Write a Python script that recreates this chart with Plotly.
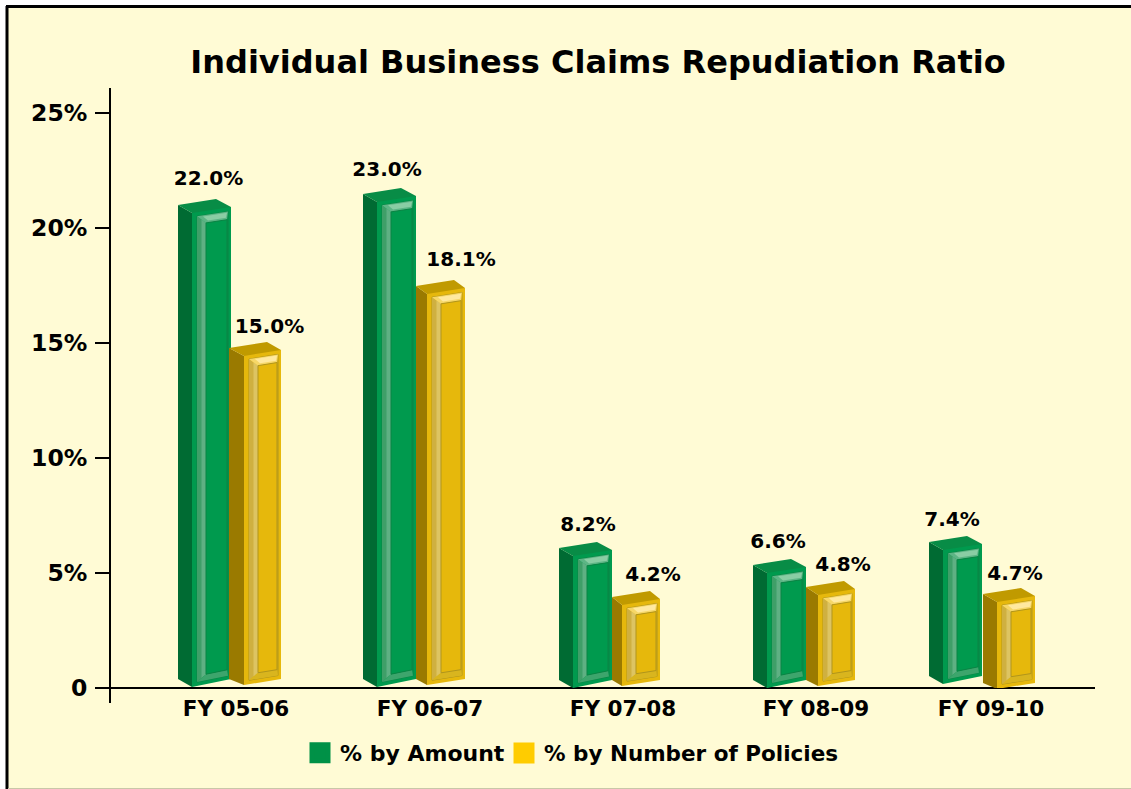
import plotly.graph_objects as go

# ---- data ----
fiscal_years = ["FY 05-06", "FY 06-07", "FY 07-08", "FY 08-09", "FY 09-10"]
amount_labels = [22.0, 23.0, 8.2, 6.6, 7.4]
policies_labels = [15.0, 18.1, 4.2, 4.8, 4.7]
# drawn height of the front-right corner of each 3D bar, and where its foot sits
amount_drawn = [20.91, 21.39, 6.0, 5.26, 6.26]
policies_drawn = [14.70, 17.39, 3.87, 4.30, 4.0]
amount_foot = [0.39, 0.39, 0.35, 0.35, 0.52]
policies_foot = [0.39, 0.39, 0.35, 0.35, 0.22]
value_ticks = [0, 5, 10, 15, 20, 25]
value_tick_labels = ["0", "5%", "10%", "15%", "20%", "25%"]

# ---- layout of the irregular category slots (x axis units = px) ----
year_centres = [236, 430, 623, 816, 991]
amount_side_left = [178, 363, 559, 753, 929]
amount_front_left = [192, 377, 573, 767, 943]
amount_front_right = [231, 416, 612, 806, 982]
policies_side_left = [229, 416, 612, 806, 983]
policies_front_left = [244, 427, 622, 818, 997]
policies_front_right = [281, 465, 660, 855, 1035]
amount_label_x = [208.5, 387, 588, 778, 952]
policies_label_x = [269.5, 461, 653, 843, 1015]
amount_label_gap = [27, 25, 24, 24, 23]
policies_label_gap = [22, 27, 23, 23, 21]

PLOT_L, PLOT_R, PLOT_T, PLOT_B = 110, 1095, 88, 688
PX = 1 / 23.0  # one pixel in value units
FONT = "DejaVu Sans"

GREEN = dict(main="#009A4E", side="#006B33", top="#088C46", left="#3F9F68", left2="#5FB083",
             top_bevel="#5DB585", hl="#8ACDA4", bottom="#3DA56C", edge="#0A8444", legend="#009147")
YELLOW = dict(main="#E6B80C", side="#9A7A00", top="#C09A00", left="#CFB040", left2="#DDC462",
              top_bevel="#F6D768", hl="#FFE9A0", bottom="#D9B51E", edge="#B0951C", legend="#FFCC00")


def path(polys):
    xs, ys = [], []
    for poly in polys:
        pts = poly + [poly[0]]
        xs += [p[0] for p in pts] + [None]
        ys += [p[1] for p in pts] + [None]
    return xs, ys


def add_series(fig, name, tops, feet, sl, fl, fr, colors, foot_tilt):
    fig.add_trace(go.Bar(
        x=[(a + b) / 2 for a, b in zip(fl, fr)], y=[t - f for t, f in zip(tops, feet)], base=feet,
        width=[b - a for a, b in zip(fl, fr)], marker=dict(color=colors["main"], line=dict(width=0)),
        name=name, showlegend=False, hoverinfo="skip"))
    groups = {k: [] for k in ["side", "top", "front_low", "frame", "left", "left2", "top_bevel", "hl", "bottom", "panel"]}
    for t, f, xl, xf, xr in zip(tops, feet, sl, fl, fr):
        w = xr - xf
        yt = lambda x: t - 6 * PX * (xr - x) / w
        yb = lambda x: f - foot_tilt * PX * (xr - x) / w
        x1, x2, x3, x4 = xf + 5, xf + 14, xr - 4, xr - 3
        xm = (x1 + x2) / 2
        groups["side"].append([(xl, t + 2 * PX), (xf, yt(xf)), (xf, yb(xf)), (xl, f)])
        groups["top"].append([(xl, t + 2 * PX), (xl + 38, t + 8 * PX), (xr, t), (xf, yt(xf))])
        groups["front_low"].append([(xf, yb(xf)), (xr, f), (xf, f)])
        groups["frame"].append([(x1, yt(x1) - 4 * PX), (x4, yt(x4) - 4 * PX), (x4, yb(x4) + 4 * PX), (x1, yb(x1) + 4 * PX)])
        groups["left"].append([(x1, yt(x1) - 4 * PX), (x2, yt(x2) - 12 * PX), (x2, yb(x2) + 10 * PX), (x1, yb(x1) + 4 * PX)])
        groups["left2"].append([(xm, yt(xm) - 8 * PX), (x2, yt(x2) - 12 * PX), (x2, yb(x2) + 10 * PX), (xm, yb(xm) + 7 * PX)])
        groups["top_bevel"].append([(x1, yt(x1) - 4 * PX), (x4, yt(x4) - 4 * PX), (x3, yt(x3) - 12 * PX), (x2, yt(x2) - 12 * PX)])
        groups["hl"].append([(x1 + 6, yt(x1 + 6) - 5 * PX), (x4 - 1, yt(x4 - 1) - 5 * PX), (x3 - 1, yt(x3 - 1) - 10 * PX), (x2 + 2, yt(x2 + 2) - 10 * PX)])
        groups["bottom"].append([(x1, yb(x1) + 4 * PX), (x2, yb(x2) + 10 * PX), (x3, yb(x3) + 10 * PX), (x4, yb(x4) + 4 * PX)])
        groups["panel"].append([(x2, yt(x2) - 12 * PX), (x3, yt(x3) - 12 * PX), (x3, yb(x3) + 10 * PX), (x2, yb(x2) + 10 * PX)])

    def draw(key, fill, line_col=None):
        xs, ys = path(groups[key])
        fig.add_trace(go.Scatter(x=xs, y=ys, mode="lines", fill="toself", fillcolor=fill,
                                 line=dict(width=1 if line_col else 0, color=line_col or fill),
                                 cliponaxis=False, showlegend=False, hoverinfo="skip"))

    draw("side", colors["side"])
    draw("top", colors["top"])
    draw("front_low", colors["main"])
    draw("frame", colors["main"], colors["edge"])
    draw("left", colors["left"])
    draw("left2", colors["left2"])
    draw("top_bevel", colors["top_bevel"])
    draw("hl", colors["hl"])
    draw("bottom", colors["bottom"])
    draw("panel", colors["main"], colors["edge"])


def px_x(p):
    return (p - PLOT_L) / (PLOT_R - PLOT_L)


def px_y(p):
    return (PLOT_B - p) / (PLOT_B - PLOT_T)


fig = go.Figure()
add_series(fig, "% by Amount", amount_drawn, amount_foot, amount_side_left, amount_front_left,
           amount_front_right, GREEN, 8)
add_series(fig, "% by Number of Policies", policies_drawn, policies_foot, policies_side_left,
           policies_front_left, policies_front_right, YELLOW, 6)

for xs, tops, gaps, vals in [(amount_label_x, amount_drawn, amount_label_gap, amount_labels),
                             (policies_label_x, policies_drawn, policies_label_gap, policies_labels)]:
    fig.add_trace(go.Scatter(
        x=xs, y=[t + g * PX for t, g in zip(tops, gaps)], mode="text",
        text=[f"{v:.1f}%" for v in vals], textposition="middle center",
        textfont=dict(family=FONT, size=20, color="#000000", weight="bold"),
        cliponaxis=False, showlegend=False, hoverinfo="skip"))

for name, col, leg in [("% by Amount", GREEN["legend"], "legend"),
                       ("% by Number of Policies", YELLOW["legend"], "legend2")]:
    fig.add_trace(go.Scatter(x=[None], y=[None], mode="markers", name=name, legend=leg,
                             marker=dict(symbol="square", size=16, color=col,
                                         line=dict(width=5, color=col))))

panel = "#FFFBD5"
tick_font = dict(family=FONT, size=23.5, color="#000000", weight="bold")
fig.update_layout(
    width=1131, height=789, autosize=False,
    margin=dict(l=PLOT_L, r=1131 - PLOT_R, t=PLOT_T, b=789 - PLOT_B),
    paper_bgcolor="#FFFFFF", plot_bgcolor="rgba(0,0,0,0)",
    barmode="overlay",
    title=dict(text="<b>Individual Business Claims Repudiation Ratio</b>",
               font=dict(family=FONT, size=32, color="#000000"),
               x=px_x(598), xref="paper", xanchor="center",
               y=1 - 62 / 789, yref="container", yanchor="middle"),
    xaxis=dict(range=[PLOT_L, PLOT_R], tickmode="array", tickvals=year_centres, ticktext=fiscal_years,
               showgrid=False, zeroline=False, showline=False,
               ticks="outside", ticklen=1, tickcolor="rgba(0,0,0,0)",
               tickfont=dict(family=FONT, size=21.5, color="#000000", weight="bold")),
    yaxis=dict(range=[0, (PLOT_B - PLOT_T) * PX], tickmode="array", tickvals=value_ticks,
               ticktext=value_tick_labels, showgrid=False, zeroline=False, showline=False,
               ticks="outside", ticklen=14, tickwidth=2, tickcolor="#000000", ticklabelstandoff=3,
               tickfont=tick_font),
    legend=dict(x=px_x(300), xanchor="left", y=px_y(753), yanchor="middle",
                bgcolor="rgba(0,0,0,0)", borderwidth=0,
                font=dict(family=FONT, size=22, color="#000000", weight="bold")),
    legend2=dict(x=px_x(504), xanchor="left", y=px_y(753), yanchor="middle",
                 bgcolor="rgba(0,0,0,0)", borderwidth=0,
                 font=dict(family=FONT, size=21.5, color="#000000", weight="bold")),
    shapes=[
        dict(type="rect", xref="paper", yref="paper", layer="below", x0=px_x(7), x1=px_x(1140),
             y0=px_y(7), y1=px_y(788), fillcolor=panel, line=dict(width=0)),
        dict(type="line", xref="paper", yref="paper", layer="below", x0=px_x(7), x1=px_x(7),
             y0=px_y(6), y1=px_y(789), line=dict(color="#000000", width=3)),
        dict(type="line", xref="paper", yref="paper", layer="below", x0=px_x(6), x1=px_x(1140),
             y0=px_y(6.5), y1=px_y(6.5), line=dict(color="#000000", width=3)),
        dict(type="line", xref="paper", yref="paper", layer="below", x0=px_x(8), x1=px_x(1140),
             y0=px_y(788.5), y1=px_y(788.5), line=dict(color="#C9C7A8", width=1)),
        dict(type="line", xref="paper", yref="paper", layer="below", x0=0, x1=0, y0=px_y(703), y1=1,
             line=dict(color="#000000", width=2)),
        dict(type="line", xref="paper", yref="paper", layer="below", x0=0, x1=1, y0=0, y1=0,
             line=dict(color="#000000", width=2)),
    ],
)

fig.write_html("out.html", config={"displayModeBar": False},
               post_script="document.body.style.margin='0';document.body.style.overflow='hidden';")
